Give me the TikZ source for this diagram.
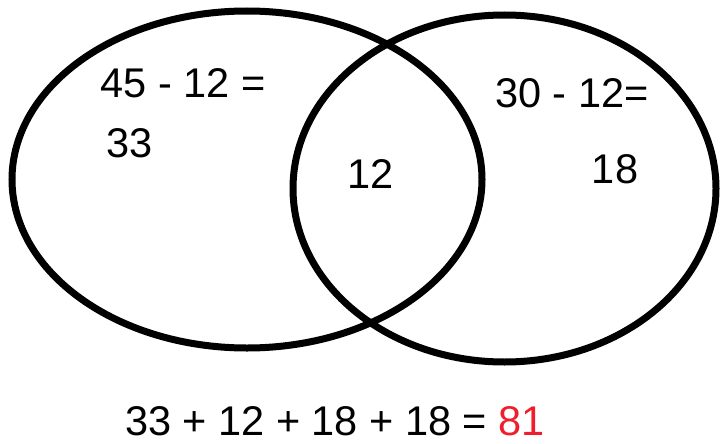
\documentclass[tikz,border=0pt]{standalone}
\usepackage{fontspec}
\setmainfont{Liberation Sans}
\usepackage{tikz}
\usetikzlibrary{calc}
\definecolor{sumRed}{RGB}{240, 30, 45}
\tikzset{
    setline/.style={draw=black, line width=7pt},
    count/.style={font=\fontsize{41.5}{48}\selectfont, inner sep=0pt, anchor=base, text depth=0pt}
}

\begin{document}
\begin{tikzpicture}[x=1pt, y=-1pt]
    \useasboundingbox (0,0) rectangle (720,444);
    \coordinate (L) at (247,179.5);
    \coordinate (R) at (504.5,188.5);
    \draw[setline] (L) ellipse [x radius=235pt, y radius=168.5pt];
    \draw[setline] (R) ellipse [x radius=211.5pt, y radius=173.5pt];
    % left only
    \node[count] (leftcalc) at (183,97) {45 - 12 =};
    \node[count] (leftval) at (130,157) {33};
    % both
    \node[count] (both) at (371,188) {12};
    % right only
    \node[count] (rightcalc) at (572,107) {30 - 12=};
    \node[count] (rightval) at (615,183) {18};
    % total
    \node[count] (total) at (335,435) {33 + 12 + 18 + 18 = \textcolor{sumRed}{81}};
\end{tikzpicture}
\end{document}
